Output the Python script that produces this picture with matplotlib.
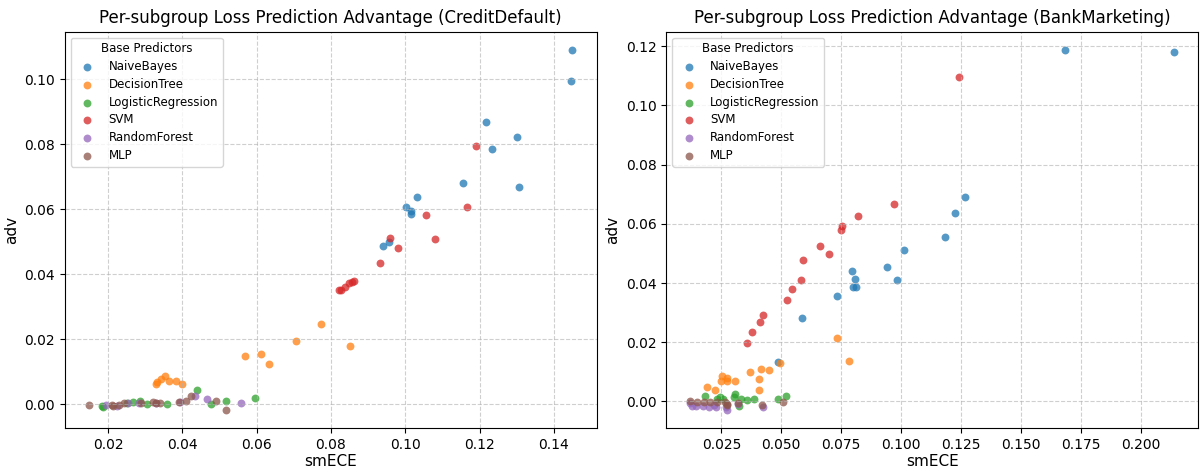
import matplotlib
matplotlib.use("Agg")
import matplotlib.pyplot as plt

models = ["NaiveBayes", "DecisionTree", "LogisticRegression", "SVM", "RandomForest", "MLP"]
colors = ["#1f77b4", "#ff7f0e", "#2ca02c", "#d62728", "#9467bd", "#8c564b"]

# ---- CreditDefault ----
cd_nb_x = [0.1450, 0.1446, 0.1218, 0.1302, 0.1233, 0.1155, 0.1307, 0.1032, 0.1003, 0.1016, 0.1016, 0.0940, 0.0955]
cd_nb_y = [0.1090, 0.0995, 0.0868, 0.0821, 0.0786, 0.0679, 0.0668, 0.0636, 0.0607, 0.0593, 0.0585, 0.0488, 0.0498]
cd_dt_x = [0.0570, 0.0612, 0.0633, 0.0328, 0.0333, 0.0344, 0.0354, 0.0363, 0.0382, 0.0400, 0.0774, 0.0705, 0.0852]
cd_dt_y = [0.0148, 0.0153, 0.0124, 0.0063, 0.0068, 0.0076, 0.0085, 0.0071, 0.0071, 0.0063, 0.0248, 0.0193, 0.0180]
cd_lr_x = [0.0183, 0.0187, 0.0250, 0.0268, 0.0286, 0.0304, 0.0360, 0.0440, 0.0476, 0.0518, 0.0595]
cd_lr_y = [-0.0006, -0.0008, 0.0005, 0.0007, 0.0009, 0.0000, 0.0000, 0.0045, -0.0001, 0.0011, 0.0018]
cd_svm_x = [0.1191, 0.1166, 0.1057, 0.1081, 0.0959, 0.0981, 0.0933, 0.0821, 0.0827, 0.0838, 0.0848, 0.0858, 0.0861]
cd_svm_y = [0.0794, 0.0607, 0.0581, 0.0509, 0.0510, 0.0479, 0.0433, 0.0350, 0.0352, 0.0360, 0.0373, 0.0377, 0.0380]
cd_rf_x = [0.0196, 0.0225, 0.0254, 0.0284, 0.0330, 0.0393, 0.0435, 0.0467, 0.0559]
cd_rf_y = [-0.0003, -0.0005, 0.0002, 0.0004, 0.0004, 0.0007, 0.0025, 0.0015, 0.0003]
cd_mlp_x = [0.0149, 0.0210, 0.0214, 0.0230, 0.0244, 0.0288, 0.0320, 0.0329, 0.0341, 0.0391, 0.0409, 0.0424, 0.0490, 0.0517]
cd_mlp_y = [-0.0003, -0.0003, -0.0005, -0.0003, 0.0005, 0.0002, 0.0007, 0.0005, 0.0005, 0.0007, 0.0009, 0.0026, 0.0009, -0.0018]

# ---- BankMarketing ----
bm_nb_x = [0.1683, 0.2138, 0.1267, 0.1226, 0.1185, 0.1013, 0.0940, 0.0984, 0.0796, 0.0808, 0.0800, 0.0813, 0.0733, 0.0586, 0.0485]
bm_nb_y = [0.1188, 0.1179, 0.0692, 0.0637, 0.0555, 0.0512, 0.0454, 0.0410, 0.0440, 0.0413, 0.0385, 0.0387, 0.0356, 0.0283, 0.0133]
bm_dt_x = [0.0190, 0.0222, 0.0248, 0.0254, 0.0275, 0.0273, 0.0308, 0.0371, 0.0407, 0.0414, 0.0449, 0.0407, 0.0493, 0.0731, 0.0783]
bm_dt_y = [0.0050, 0.0038, 0.0068, 0.0085, 0.0080, 0.0069, 0.0070, 0.0099, 0.0076, 0.0109, 0.0105, 0.0039, 0.0131, 0.0215, 0.0138]
bm_lr_x = [0.0183, 0.0230, 0.0245, 0.0258, 0.0302, 0.0306, 0.0323, 0.0334, 0.0356, 0.0385, 0.0486, 0.0521]
bm_lr_y = [0.0019, 0.0008, 0.0014, 0.0009, 0.0014, 0.0025, -0.0015, 0.0007, 0.0006, 0.0008, 0.0007, 0.0018]
bm_svm_x = [0.1242, 0.0970, 0.0822, 0.0755, 0.0751, 0.0660, 0.0700, 0.0592, 0.0583, 0.0545, 0.0522, 0.0424, 0.0412, 0.0377, 0.0358]
bm_svm_y = [0.1095, 0.0668, 0.0628, 0.0594, 0.0580, 0.0525, 0.0499, 0.0478, 0.0411, 0.0379, 0.0344, 0.0292, 0.0267, 0.0236, 0.0197]
bm_rf_x = [0.0121, 0.0126, 0.0146, 0.0174, 0.0200, 0.0218, 0.0229, 0.0269, 0.0272, 0.0321, 0.0424]
bm_rf_y = [-0.0004, -0.0014, -0.0014, -0.0016, -0.0019, -0.0012, -0.0019, -0.0018, -0.0029, -0.0009, -0.0018]
bm_mlp_x = [0.0121, 0.0148, 0.0177, 0.0204, 0.0232, 0.0266, 0.0272, 0.0275, 0.0321, 0.0418, 0.0507]
bm_mlp_y = [0.0003, -0.0001, -0.0003, -0.0001, -0.0001, -0.0001, -0.0013, -0.0009, -0.0007, -0.0013, -0.0003]

datasets = [
    ("CreditDefault", [(cd_nb_x, cd_nb_y), (cd_dt_x, cd_dt_y), (cd_lr_x, cd_lr_y),
                       (cd_svm_x, cd_svm_y), (cd_rf_x, cd_rf_y), (cd_mlp_x, cd_mlp_y)]),
    ("BankMarketing", [(bm_nb_x, bm_nb_y), (bm_dt_x, bm_dt_y), (bm_lr_x, bm_lr_y),
                       (bm_svm_x, bm_svm_y), (bm_rf_x, bm_rf_y), (bm_mlp_x, bm_mlp_y)]),
]

fig, axes = plt.subplots(1, 2, figsize=(12.01, 4.68), dpi=100)
for ax, (name, series) in zip(axes, datasets):
    for m, c, (xs, ys) in zip(models, colors, series):
        ax.scatter(xs, ys, s=32, color=c, alpha=0.75, label=m, linewidths=0)
    ax.set_title(f"Per-subgroup Loss Prediction Advantage ({name})", fontsize=12)
    ax.set_xlabel("smECE", fontsize=11, labelpad=1.5)
    ax.set_ylabel("adv", fontsize=11)
    ax.grid(True, linestyle="--", alpha=0.6)
    ax.legend(title="Base Predictors", loc="upper left", fontsize=8.5, title_fontsize=8.5,
              labelspacing=0.4)

fig.subplots_adjust(left=0.054, right=0.9975, top=0.932, bottom=0.0855, wspace=0.131)
fig.savefig("out.png", dpi=100)
